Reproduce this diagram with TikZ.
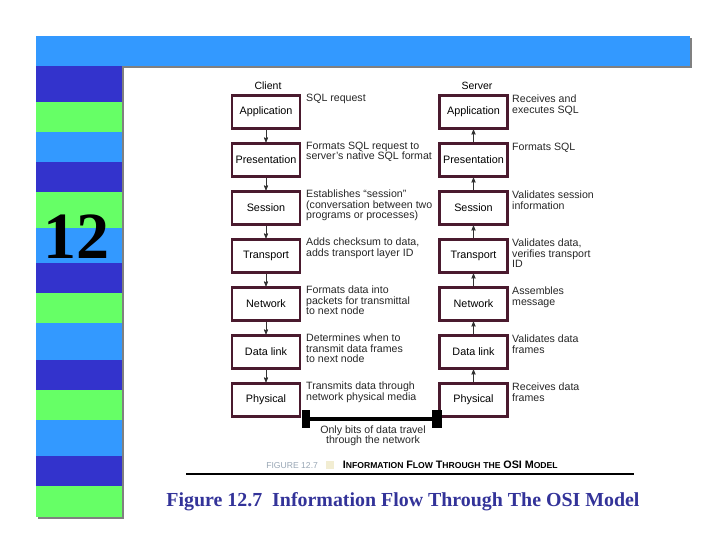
\documentclass[tikz,border=0pt]{standalone}
\usepackage{fontspec}
\setmainfont{Liberation Serif}
\setsansfont{Liberation Sans}
\usepackage{tikz}
\usetikzlibrary{arrows, positioning}

\definecolor{barblue}{HTML}{3399FF}
\definecolor{stripedark}{HTML}{3333CC}
\definecolor{stripegreen}{HTML}{66FF66}
\definecolor{boxrim}{HTML}{4A1A2E}
\definecolor{capblue}{HTML}{333399}
\definecolor{figgray}{HTML}{98A6B4}
\definecolor{chipyellow}{HTML}{F2EDD2}

\newcommand\scword[2]{{\fontsize{10.8}{11}\selectfont #1}{\fontsize{8.6}{11}\selectfont #2}}

\tikzset{
	layer/.style = {draw=boxrim, line width=2.5pt, fill=white,
		minimum width=68pt, minimum height=33pt, inner sep=0pt,
		font=\sffamily\fontsize{10.8}{10.8}\selectfont},
	note/.style = {anchor=north west, inner sep=0pt, align=left,
		text=black!85, font=\sffamily\fontsize{10.6}{10.2}\selectfont},
	flow/.style = {->, >=stealth', line width=0.8pt, black!80}
}

\begin{document}
\begin{tikzpicture}[x=1pt, y=-1pt]
				\useasboundingbox (0,0) rectangle (720,540);
				% slide frame
				\fill[gray] (38,38) rectangle (692,68);
				\fill[gray] (38,68) rectangle (124,519);
				\fill[barblue] (36,36) rectangle (690,66);
				\fill[stripedark] (36,66) rectangle (122,102);
				\fill[stripegreen] (36,102) rectangle (122,132);
				\fill[barblue] (36,132) rectangle (122,162);
				\fill[stripedark] (36,162) rectangle (122,192);
				\fill[stripegreen] (36,192) rectangle (122,228);
				\fill[barblue] (36,228) rectangle (122,263);
				\fill[stripedark] (36,263) rectangle (122,293);
				\fill[stripegreen] (36,293) rectangle (122,323);
				\fill[barblue] (36,323) rectangle (122,360);
				\fill[stripedark] (36,360) rectangle (122,390);
				\fill[stripegreen] (36,390) rectangle (122,420);
				\fill[barblue] (36,420) rectangle (122,456);
				\fill[stripedark] (36,456) rectangle (122,486);
				\fill[stripegreen] (36,486) rectangle (122,517);
				\node at (76,237) (chapNum) [font=\bfseries\fontsize{66}{66}\selectfont] {12};

				% headings
				\node at (268,86) (client) [font=\sffamily\fontsize{10.5}{10.5}\selectfont] {Client};
				\node at (477,86) (server) [font=\sffamily\fontsize{10.5}{10.5}\selectfont] {Server};

				% client stack
				\node at (266,112) (cApp) [layer] {Application};
				\node at (266,160) (cPres) [layer] {Presentation};
				\node at (266,208) (cSess) [layer] {Session};
				\node at (266,256) (cTrans) [layer] {Transport};
				\node at (266,304) (cNet) [layer] {Network};
				\node at (266,352) (cLink) [layer] {Data link};
				\node at (266,400) (cPhys) [layer] {Physical};

				% server stack
				\node at (473.5,112) (sApp) [layer] {Application};
				\node at (473.5,160) (sPres) [layer] {Presentation};
				\node at (473.5,208) (sSess) [layer] {Session};
				\node at (473.5,256) (sTrans) [layer] {Transport};
				\node at (473.5,304) (sNet) [layer] {Network};
				\node at (473.5,352) (sLink) [layer] {Data link};
				\node at (473.5,400) (sPhys) [layer] {Physical};

				% client notes
				\node at (306,94) (cAppNote) [note] {SQL request};
				\node at (306,142) (cPresNote) [note] {Formats SQL request to\\server’s native SQL format};
				\node at (306,190) (cSessNote) [note] {Establishes “session”\\(conversation between two\\programs or processes)};
				\node at (306,238) (cTransNote) [note] {Adds checksum to data,\\adds transport layer ID};
				\node at (306,286) (cNetNote) [note] {Formats data into\\packets for transmittal\\to next node};
				\node at (306,334) (cLinkNote) [note] {Determines when to\\transmit data frames\\to next node};
				\node at (306,382) (cPhysNote) [note] {Transmits data through\\network physical media};

				% server notes
				\node at (512,95) (sAppNote) [note] {Receives and\\executes SQL};
				\node at (512,143) (sPresNote) [note] {Formats SQL};
				\node at (512,191) (sSessNote) [note] {Validates session\\information};
				\node at (512,239) (sTransNote) [note] {Validates data,\\verifies transport\\ID};
				\node at (512,287) (sNetNote) [note] {Assembles\\message};
				\node at (512,335) (sLinkNote) [note] {Validates data\\frames};
				\node at (512,383) (sPhysNote) [note] {Receives data\\frames};

				% flow down the client, up the server
				\draw[flow] (cApp) -- (cPres);
				\draw[flow] (cPres) -- (cSess);
				\draw[flow] (cSess) -- (cTrans);
				\draw[flow] (cTrans) -- (cNet);
				\draw[flow] (cNet) -- (cLink);
				\draw[flow] (cLink) -- (cPhys);
				\draw[flow] (sPhys) -- (sLink);
				\draw[flow] (sLink) -- (sNet);
				\draw[flow] (sNet) -- (sTrans);
				\draw[flow] (sTrans) -- (sSess);
				\draw[flow] (sSess) -- (sPres);
				\draw[flow] (sPres) -- (sApp);

				% the wire
				\node at (306,419) (cPlug) [fill=black, minimum width=8pt, minimum height=18pt, inner sep=0pt] {};
				\node at (437,419) (sPlug) [fill=black, minimum width=10pt, minimum height=18pt, inner sep=0pt] {};
				\draw[line width=4pt, black] (cPlug) -- (sPlug);
				\node at (373,436) (wireNote) [align=center, text=black!85, font=\sffamily\fontsize{10.6}{10.5}\selectfont] {Only bits of data travel\\through the network};

				% captions
				\node at (412,465) (figTitle) [font=\sffamily\bfseries] {{\mdseries\fontsize{8.6}{11}\selectfont\color{figgray}FIGURE 12.7}\hspace{8pt}{\color{chipyellow}\rule{8pt}{8pt}}\hspace{9pt}\scword{I}{NFORMATION} \scword{F}{LOW} \scword{T}{HROUGH} \scword{}{THE} \scword{OSI}{} \scword{M}{ODEL}};
				\draw[line width=1.3pt] (186,474) -- (634,474);
				\node at (403,502) (slideCaption) [text=capblue, font=\bfseries\fontsize{19.9}{20}\selectfont] {Figure 12.7~ Information Flow Through The OSI Model};
			\end{tikzpicture}
\end{document}
